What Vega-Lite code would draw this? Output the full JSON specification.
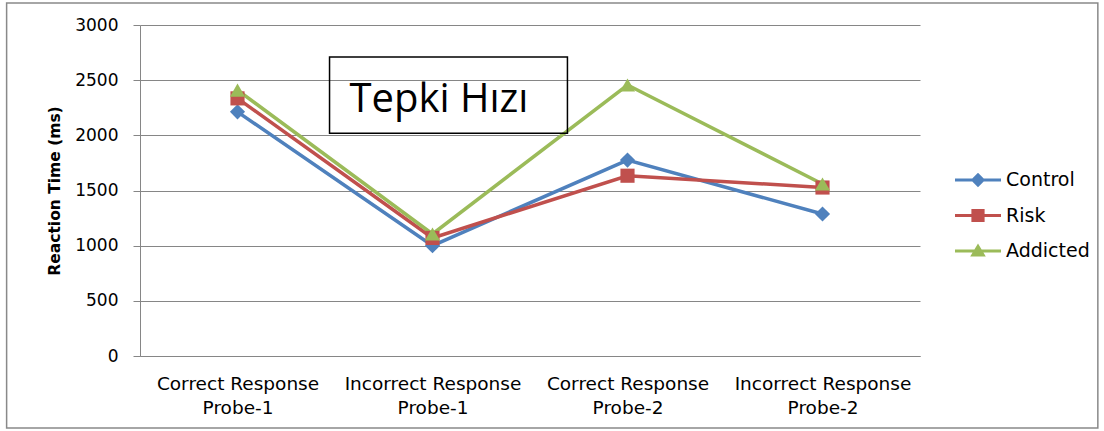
{
  "$schema": "https://vega.github.io/schema/vega-lite/v6.json",
  "width": 780,
  "height": 331,
  "autosize": {"type": "none"},
  "padding": {"left": 140, "top": 25, "right": 184, "bottom": 75},
  "background": "white",
  "config": {
    "view": {"stroke": null},
    "font": "DejaVu Sans",
    "axis": {"labelColor": "#000000", "titleColor": "#000000", "labelFont": "DejaVu Sans", "titleFont": "DejaVu Sans"},
    "legend": {"labelFont": "DejaVu Sans"}
  },
  "layer": [
    {
      "data": {
        "values": [
          {"probe": "Correct Response Probe-1", "group": "Control", "rt": 2213},
          {"probe": "Incorrect Response Probe-1", "group": "Control", "rt": 1000},
          {"probe": "Correct Response Probe-2", "group": "Control", "rt": 1776},
          {"probe": "Incorrect Response Probe-2", "group": "Control", "rt": 1287},
          {"probe": "Correct Response Probe-1", "group": "Risk", "rt": 2335},
          {"probe": "Incorrect Response Probe-1", "group": "Risk", "rt": 1070},
          {"probe": "Correct Response Probe-2", "group": "Risk", "rt": 1634},
          {"probe": "Incorrect Response Probe-2", "group": "Risk", "rt": 1527},
          {"probe": "Correct Response Probe-1", "group": "Addicted", "rt": 2410},
          {"probe": "Incorrect Response Probe-1", "group": "Addicted", "rt": 1106},
          {"probe": "Correct Response Probe-2", "group": "Addicted", "rt": 2456},
          {"probe": "Incorrect Response Probe-2", "group": "Addicted", "rt": 1559}
        ]
      },
      "encoding": {
        "x": {
          "field": "probe", "type": "nominal", "sort": null,
          "scale": {"type": "point", "padding": 0.5},
          "axis": {
            "title": null, "labelAngle": 0, "ticks": false, "grid": false,
            "domainColor": "#868686", "domainWidth": 1,
            "labelFontSize": 18.5, "labelPadding": 18, "labelLineHeight": 24,
            "labelExpr": "[slice(datum.label, 0, lastindexof(datum.label, ' ')), slice(datum.label, lastindexof(datum.label, ' ') + 1)]"
          }
        },
        "y": {
          "field": "rt", "type": "quantitative", "title": "Reaction Time (ms)",
          "scale": {"domain": [0, 3000], "nice": false},
          "axis": {
            "values": [0, 500, 1000, 1500, 2000, 2500, 3000], "format": "d",
            "gridColor": "#868686", "gridWidth": 1,
            "domainColor": "#868686", "tickColor": "#868686", "tickSize": 7,
            "labelFontSize": 17, "labelPadding": 15,
            "titleFontSize": 15.5, "titleFontWeight": "bold", "titlePadding": 12
          }
        },
        "color": {
          "field": "group", "type": "nominal",
          "scale": {"domain": ["Control", "Risk", "Addicted"], "range": ["#4F81BD", "#C0504D", "#9BBB59"]},
          "legend": {
            "title": null, "orient": "none", "legendX": 828, "legendY": 145,
            "padding": 0, "symbolSize": 400, "labelFontSize": 19, "labelOffset": 18,
            "rowPadding": 15.5, "labelColor": "#000000",
            "encode": {
              "symbols": {
                "update": {
                  "shape": {"signal": "datum.value === 'Control' ? 'M-2.3,-0.15H2.3V0.15H-2.3Z M0,-0.72L0.72,0L0,0.72L-0.72,0Z' : datum.value === 'Risk' ? 'M-2.3,-0.15H2.3V0.15H-2.3Z M-0.66,-0.66H0.66V0.66H-0.66Z' : 'M-2.3,-0.15H2.3V0.15H-2.3Z M0,-0.75L0.78,0.55H-0.78Z'"},
                  "fill": {"signal": "datum.value === 'Control' ? '#4F81BD' : datum.value === 'Risk' ? '#C0504D' : '#9BBB59'"},
                  "strokeWidth": {"value": 0},
                  "opacity": {"value": 1}
                }
              }
            }
          }
        }
      },
      "layer": [
        {"mark": {"type": "line", "strokeWidth": 3.5}},
        {
          "transform": [{"filter": "datum.group === 'Control'"}],
          "mark": {"type": "point", "shape": "diamond", "filled": true, "size": 230, "opacity": 1}
        },
        {
          "transform": [{"filter": "datum.group === 'Risk'"}],
          "mark": {"type": "point", "shape": "square", "filled": true, "size": 200, "opacity": 1}
        },
        {
          "transform": [{"filter": "datum.group === 'Addicted'"}],
          "mark": {"type": "point", "shape": "triangle-up", "filled": true, "size": 230, "opacity": 1}
        }
      ]
    },
    {
      "data": {
        "values": [
          {"kind": "frame", "x1": -0.171, "x2": 1.228, "y1": -652, "y2": 3199},
          {"kind": "titlebox", "x1": 0.243, "x2": 0.548, "y1": 2020, "y2": 2709}
        ]
      },
      "mark": {"type": "rect", "fill": "transparent", "strokeWidth": 1.5, "clip": false},
      "encoding": {
        "x": {"field": "x1", "type": "quantitative", "scale": {"domain": [0, 1], "nice": false, "zero": false}, "axis": null},
        "x2": {"field": "x2"},
        "y": {"field": "y1", "type": "quantitative", "title": "Reaction Time (ms)"},
        "y2": {"field": "y2"},
        "stroke": {
          "field": "kind", "type": "nominal", "legend": null,
          "scale": {"domain": ["frame", "titlebox"], "range": ["#898989", "#000000"]}
        }
      }
    },
    {
      "data": {"values": [{"label": "Tepki Hızı", "tx": 0.2686, "ty": 2211}]},
      "mark": {"type": "text", "align": "left", "baseline": "alphabetic", "fontSize": 40, "font": "Open Sans", "color": "#000000"},
      "encoding": {
        "x": {"field": "tx", "type": "quantitative", "scale": {"domain": [0, 1], "nice": false, "zero": false}, "axis": null},
        "y": {"field": "ty", "type": "quantitative", "title": "Reaction Time (ms)"},
        "text": {"field": "label"}
      }
    }
  ],
  "resolve": {"scale": {"x": "independent"}}
}
